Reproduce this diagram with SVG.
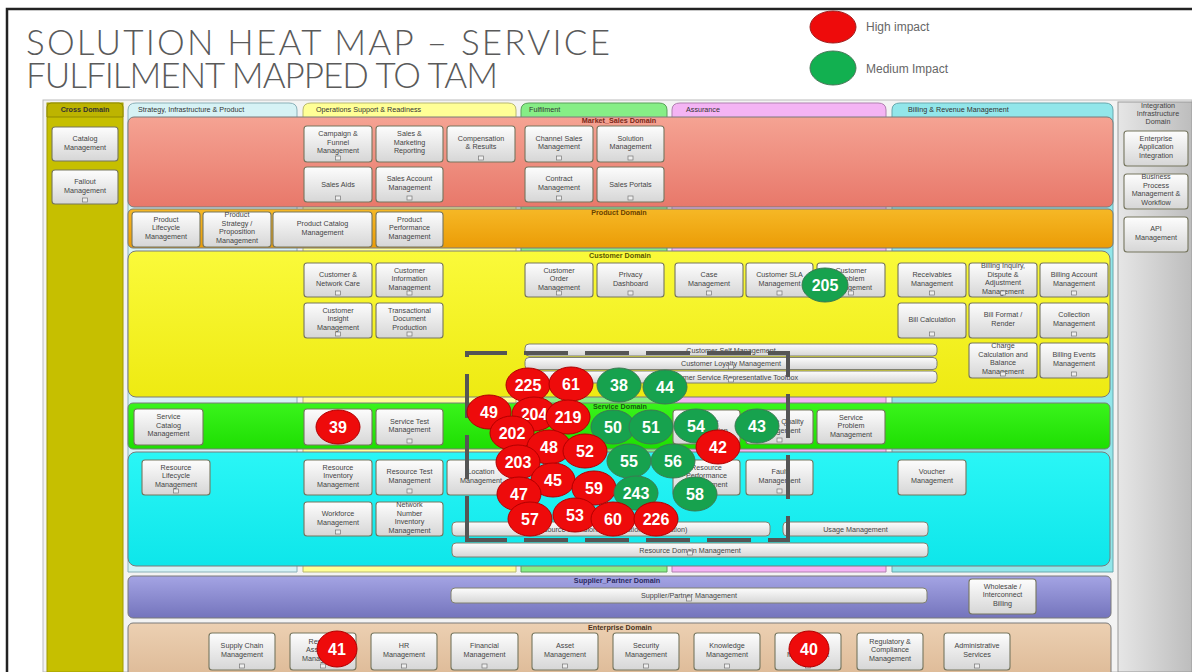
<svg xmlns="http://www.w3.org/2000/svg" width="1192" height="672" viewBox="0 0 1192 672">
  <defs>
    <linearGradient id="gBox" x1="0" y1="0" x2="0" y2="1">
      <stop offset="0" stop-color="#fdfdfd"/>
      <stop offset="1" stop-color="#d6d6d6"/>
    </linearGradient>
    <linearGradient id="gMarket" x1="0" y1="0" x2="0" y2="1">
      <stop offset="0" stop-color="#f5a393"/>
      <stop offset="1" stop-color="#e8786a"/>
    </linearGradient>
    <linearGradient id="gProduct" x1="0" y1="0" x2="0" y2="1">
      <stop offset="0" stop-color="#f6b826"/>
      <stop offset="1" stop-color="#eb9c06"/>
    </linearGradient>
    <linearGradient id="gCustomer" x1="0" y1="0" x2="0" y2="1">
      <stop offset="0" stop-color="#fafa3a"/>
      <stop offset="1" stop-color="#eeea12"/>
    </linearGradient>
    <linearGradient id="gService" x1="0" y1="0" x2="0" y2="1">
      <stop offset="0" stop-color="#3af41c"/>
      <stop offset="1" stop-color="#1ede02"/>
    </linearGradient>
    <linearGradient id="gResource" x1="0" y1="0" x2="0" y2="1">
      <stop offset="0" stop-color="#2af6f6"/>
      <stop offset="1" stop-color="#0ee6ea"/>
    </linearGradient>
    <linearGradient id="gSupplier" x1="0" y1="0" x2="0" y2="1">
      <stop offset="0" stop-color="#a4a4e4"/>
      <stop offset="1" stop-color="#7474bc"/>
    </linearGradient>
    <linearGradient id="gEnterprise" x1="0" y1="0" x2="0" y2="1">
      <stop offset="0" stop-color="#ecd0b2"/>
      <stop offset="1" stop-color="#dcb894"/>
    </linearGradient>
    <linearGradient id="gIntegration" x1="0" y1="0" x2="1" y2="0">
      <stop offset="0" stop-color="#e6e6e6"/>
      <stop offset="1" stop-color="#bdbdbd"/>
    </linearGradient>
    <style>
      .frame { fill: none; stroke: #222; stroke-width: 2.5; }
      .title { font-family: Lato, "Open Sans", "DejaVu Sans", sans-serif; font-weight: 300; font-size: 35px; fill: #5a5a5a; }
      .legend { font-family: "Liberation Sans", Arial, sans-serif; font-size: 12px; fill: #666; }
      .box { fill: url(#gBox); stroke: #76765f; stroke-width: 1.1; }
      .bar { fill: url(#gBox); stroke: #808070; stroke-width: 1; }
      .bt { font-family: "Liberation Sans", Arial, sans-serif; font-size: 7.2px; fill: #444; text-anchor: middle; }
      .tab { font-family: "Liberation Sans", Arial, sans-serif; font-size: 7.2px; fill: #333; }
      .dom { font-family: "Liberation Sans", Arial, sans-serif; font-size: 7.2px; text-anchor: middle; font-weight: bold; }
      .ico { fill: #eee; stroke: #777; stroke-width: 0.7; }
      .row { stroke: #7a7a7a; stroke-width: 1; }
      .hi { fill: #ee0b0b; stroke: #b00000; stroke-width: 1; }
      .med { fill: #17a24e; stroke: #3c7a52; stroke-width: 1; }
      .bn { font-family: "Liberation Sans", Arial, sans-serif; font-size: 16px; font-weight: bold; fill: #fff; text-anchor: middle; }
      .zone { fill: none; stroke: #555; stroke-width: 4; stroke-dasharray: 44 17; }
    </style>
  </defs>

  <rect x="0" y="0" width="1192" height="672" fill="#fff"/>
  <path class="frame" d="M7 672 V9 H1192"/>

  <!-- heading -->
  <g id="heading">
    <text class="title" x="26" y="55" textLength="584" lengthAdjust="spacing">SOLUTION HEAT MAP  – SERVICE</text>
    <text class="title" x="26" y="88" textLength="472" lengthAdjust="spacing">FULFILMENT MAPPED TO TAM</text>
  </g>

  <!-- legend -->
  <g id="legend">
    <ellipse cx="833" cy="27" rx="23" ry="16" fill="#ee0b0b" stroke="#a02020"/>
    <text class="legend" x="866" y="31">High impact</text>
    <ellipse cx="833" cy="68" rx="23" ry="17" fill="#12b050" stroke="#4a7a5a"/>
    <text class="legend" x="866" y="73">Medium Impact</text>
  </g>

  <!-- map background and framing columns -->
  <g id="columns">
    <rect x="43" y="100" width="1149" height="572" fill="#f3f3f3" stroke="#bbb"/>
    <rect x="1118" y="102" width="74" height="570" fill="url(#gIntegration)" stroke="#999"/>
    <rect x="47" y="103" width="76" height="569" fill="#c6bf00" stroke="#a09a00"/>
    <path d="M47 117 V107 Q47 103 51 103 H119 Q123 103 123 107 V117 Z" fill="#bdb400" stroke="#8f8a00"/>
    <text class="tab" x="85" y="112" text-anchor="middle" font-weight="bold">Cross Domain</text>

    <path d="M128 572 V110 Q128 103 136 103 H289 Q297 103 297 110 V572 Z" fill="#d6f2f5" stroke="#8ab0b8"/>
    <text class="tab" x="138" y="112">Strategy, Infrastructure &amp; Product</text>
    <path d="M303 572 V110 Q303 103 311 103 H508 Q516 103 516 110 V572 Z" fill="#ffff96" stroke="#b8b870"/>
    <text class="tab" x="316" y="112">Operations Support &amp; Readiness</text>
    <path d="M521 572 V110 Q521 103 529 103 H659 Q667 103 667 110 V572 Z" fill="#86ee86" stroke="#5aa05a"/>
    <text class="tab" x="529" y="112">Fulfilment</text>
    <path d="M672 572 V110 Q672 103 680 103 H878 Q886 103 886 110 V572 Z" fill="#f4b4f4" stroke="#b080b0"/>
    <text class="tab" x="686" y="112">Assurance</text>
    <path d="M892 572 V110 Q892 103 900 103 H1105 Q1113 103 1113 110 V572 Z" fill="#92e6ea" stroke="#68a8ae"/>
    <text class="tab" x="908" y="112">Billing &amp; Revenue Management</text>

    <text class="bt" x="1158" y="108" fill="#333">Integration</text>
    <text class="bt" x="1158" y="116" fill="#333">Infrastructure</text>
    <text class="bt" x="1158" y="124" fill="#333">Domain</text>
  </g>

  <!-- domain rows -->
  <g id="domains">
    <rect class="row" x="128" y="117" width="985" height="90" rx="6" fill="url(#gMarket)"/>
    <text class="dom" x="619" y="123" fill="#7a2818">Market_Sales Domain</text>
    <rect class="row" x="128" y="209" width="985" height="39" rx="5" fill="url(#gProduct)"/>
    <text class="dom" x="619" y="215" fill="#6a4200">Product Domain</text>
    <rect class="row" x="128" y="251" width="982" height="146" rx="8" fill="url(#gCustomer)"/>
    <text class="dom" x="620" y="258" fill="#5a5600">Customer Domain</text>
    <rect class="row" x="128" y="403" width="982" height="46" rx="5" fill="url(#gService)"/>
    <text class="dom" x="620" y="409" fill="#1a5a10">Service Domain</text>
    <rect class="row" x="128" y="452" width="982" height="114" rx="8" fill="url(#gResource)"/>
    <rect class="row" x="128" y="576" width="983" height="42" rx="5" fill="url(#gSupplier)"/>
    <text class="dom" x="617" y="583" fill="#2a2a60">Supplier_Partner Domain</text>
    <rect class="row" x="128" y="623" width="983" height="60" rx="5" fill="url(#gEnterprise)"/>
    <text class="dom" x="620" y="630" fill="#4a3420">Enterprise Domain</text>
  </g>

  <!-- cross domain -->
  <g id="catalog-management"><rect class="box" x="52" y="127" width="66" height="34" rx="3"/><text class="bt" x="85" y="141.2">Catalog<tspan x="85" dy="8.5">Management</tspan></text></g>
  <g id="fallout-management"><rect class="box" x="52" y="170" width="66" height="34" rx="3"/><text class="bt" x="85" y="184.2">Fallout<tspan x="85" dy="8.5">Management</tspan></text><rect class="ico" x="82.5" y="198" width="5" height="4"/></g>

  <!-- market / sales -->
  <g id="campaign-funnel"><rect class="box" x="304" y="126" width="68" height="36" rx="3"/><text class="bt" x="338" y="136.2">Campaign &amp;<tspan x="338" dy="8.5">Funnel</tspan><tspan x="338" dy="8.5">Management</tspan></text><rect class="ico" x="335.5" y="156" width="5" height="4"/></g>
  <g id="sales-marketing-reporting"><rect class="box" x="376" y="126" width="67" height="36" rx="3"/><text class="bt" x="409.5" y="136.2">Sales &amp;<tspan x="409.5" dy="8.5">Marketing</tspan><tspan x="409.5" dy="8.5">Reporting</tspan></text></g>
  <g id="compensation-results"><rect class="box" x="447" y="126" width="68" height="36" rx="3"/><text class="bt" x="481" y="140.5">Compensation<tspan x="481" dy="8.5">&amp; Results</tspan></text><rect class="ico" x="478.5" y="156" width="5" height="4"/></g>
  <g id="channel-sales"><rect class="box" x="525" y="126" width="68" height="36" rx="3"/><text class="bt" x="559" y="140.5">Channel Sales<tspan x="559" dy="8.5">Management</tspan></text><rect class="ico" x="556.5" y="156" width="5" height="4"/></g>
  <g id="solution-management"><rect class="box" x="597" y="126" width="67" height="36" rx="3"/><text class="bt" x="630.5" y="140.5">Solution<tspan x="630.5" dy="8.5">Management</tspan></text><rect class="ico" x="628" y="156" width="5" height="4"/></g>
  <g id="sales-aids"><rect class="box" x="304" y="167" width="68" height="35" rx="3"/><text class="bt" x="338" y="187">Sales Aids</text><rect class="ico" x="335.5" y="196" width="5" height="4"/></g>
  <g id="sales-account"><rect class="box" x="376" y="167" width="67" height="35" rx="3"/><text class="bt" x="409.5" y="181">Sales Account<tspan x="409.5" dy="8.5">Management</tspan></text><rect class="ico" x="407" y="196" width="5" height="4"/></g>
  <g id="contract-management"><rect class="box" x="525" y="167" width="68" height="35" rx="3"/><text class="bt" x="559" y="181">Contract<tspan x="559" dy="8.5">Management</tspan></text><rect class="ico" x="556.5" y="196" width="5" height="4"/></g>
  <g id="sales-portals"><rect class="box" x="597" y="167" width="67" height="35" rx="3"/><text class="bt" x="630.5" y="187">Sales Portals</text><rect class="ico" x="628" y="196" width="5" height="4"/></g>

  <!-- product -->
  <g id="product-lifecycle"><rect class="box" x="132" y="212" width="68" height="35" rx="3"/><text class="bt" x="166" y="221.7">Product<tspan x="166" dy="8.5">Lifecycle</tspan><tspan x="166" dy="8.5">Management</tspan></text></g>
  <g id="product-strategy"><rect class="box" x="203" y="212" width="68" height="35" rx="3"/><text class="bt" x="237" y="217.4">Product<tspan x="237" dy="8.5">Strategy /</tspan><tspan x="237" dy="8.5">Proposition</tspan><tspan x="237" dy="8.5">Management</tspan></text></g>
  <g id="product-catalog"><rect class="box" x="273" y="212" width="99" height="35" rx="3"/><text class="bt" x="322.5" y="226">Product Catalog<tspan x="322.5" dy="8.5">Management</tspan></text></g>
  <g id="product-performance"><rect class="box" x="376" y="212" width="67" height="35" rx="3"/><text class="bt" x="409.5" y="221.7">Product<tspan x="409.5" dy="8.5">Performance</tspan><tspan x="409.5" dy="8.5">Management</tspan></text></g>

  <!-- integration infrastructure -->
  <g id="enterprise-application-integration"><rect class="box" x="1124" y="131" width="64" height="35" rx="3"/><text class="bt" x="1156" y="140.7">Enterprise<tspan x="1156" dy="8.5">Application</tspan><tspan x="1156" dy="8.5">Integration</tspan></text></g>
  <g id="business-process-management"><rect class="box" x="1124" y="174" width="64" height="35" rx="3"/><text class="bt" x="1156" y="179.4">Business<tspan x="1156" dy="8.5">Process</tspan><tspan x="1156" dy="8.5">Management &amp;</tspan><tspan x="1156" dy="8.5">Workflow</tspan></text></g>
  <g id="api-management"><rect class="box" x="1124" y="217" width="64" height="35" rx="3"/><text class="bt" x="1156" y="231">API<tspan x="1156" dy="8.5">Management</tspan></text></g>

  <!-- customer -->
  <g id="customer-network-care"><rect class="box" x="304" y="263" width="68" height="34" rx="3"/><text class="bt" x="338" y="277">Customer &amp;<tspan x="338" dy="8.5">Network Care</tspan></text><rect class="ico" x="335.5" y="291" width="5" height="4"/></g>
  <g id="customer-information"><rect class="box" x="376" y="263" width="67" height="34" rx="3"/><text class="bt" x="409.5" y="272.7">Customer<tspan x="409.5" dy="8.5">Information</tspan><tspan x="409.5" dy="8.5">Management</tspan></text><rect class="ico" x="407" y="291" width="5" height="4"/></g>
  <g id="customer-insight"><rect class="box" x="304" y="303" width="68" height="35" rx="3"/><text class="bt" x="338" y="312.7">Customer<tspan x="338" dy="8.5">Insight</tspan><tspan x="338" dy="8.5">Management</tspan></text><rect class="ico" x="335.5" y="332" width="5" height="4"/></g>
  <g id="transactional-document"><rect class="box" x="376" y="303" width="67" height="35" rx="3"/><text class="bt" x="409.5" y="312.7">Transactional<tspan x="409.5" dy="8.5">Document</tspan><tspan x="409.5" dy="8.5">Production</tspan></text><rect class="ico" x="407" y="332" width="5" height="4"/></g>
  <g id="customer-order"><rect class="box" x="525" y="263" width="68" height="34" rx="3"/><text class="bt" x="559" y="272.7">Customer<tspan x="559" dy="8.5">Order</tspan><tspan x="559" dy="8.5">Management</tspan></text><rect class="ico" x="556.5" y="291" width="5" height="4"/></g>
  <g id="privacy-dashboard"><rect class="box" x="597" y="263" width="67" height="34" rx="3"/><text class="bt" x="630.5" y="277">Privacy<tspan x="630.5" dy="8.5">Dashboard</tspan></text><rect class="ico" x="628" y="291" width="5" height="4"/></g>
  <g id="case-management"><rect class="box" x="675" y="263" width="68" height="34" rx="3"/><text class="bt" x="709" y="277">Case<tspan x="709" dy="8.5">Management</tspan></text><rect class="ico" x="706.5" y="291" width="5" height="4"/></g>
  <g id="customer-sla"><rect class="box" x="746" y="263" width="67" height="34" rx="3"/><text class="bt" x="779.5" y="277">Customer SLA<tspan x="779.5" dy="8.5">Management</tspan></text><rect class="ico" x="777" y="291" width="5" height="4"/></g>
  <g id="customer-problem"><rect class="box" x="817" y="263" width="68" height="34" rx="3"/><text class="bt" x="851" y="272.7">Customer<tspan x="851" dy="8.5">Problem</tspan><tspan x="851" dy="8.5">Management</tspan></text><rect class="ico" x="848.5" y="291" width="5" height="4"/></g>
  <g id="receivables"><rect class="box" x="898" y="263" width="68" height="34" rx="3"/><text class="bt" x="932" y="277">Receivables<tspan x="932" dy="8.5">Management</tspan></text><rect class="ico" x="929.5" y="291" width="5" height="4"/></g>
  <g id="billing-inquiry"><rect class="box" x="969" y="263" width="68" height="34" rx="3"/><text class="bt" x="1003" y="268.4">Billing Inquiry,<tspan x="1003" dy="8.5">Dispute &amp;</tspan><tspan x="1003" dy="8.5">Adjustment</tspan><tspan x="1003" dy="8.5">Management</tspan></text><rect class="ico" x="1000.5" y="291" width="5" height="4"/></g>
  <g id="billing-account"><rect class="box" x="1040" y="263" width="68" height="34" rx="3"/><text class="bt" x="1074" y="277">Billing Account<tspan x="1074" dy="8.5">Management</tspan></text><rect class="ico" x="1071.5" y="291" width="5" height="4"/></g>
  <g id="bill-calculation"><rect class="box" x="898" y="303" width="68" height="35" rx="3"/><text class="bt" x="932" y="322">Bill Calculation</text><rect class="ico" x="929.5" y="332" width="5" height="4"/></g>
  <g id="bill-format"><rect class="box" x="969" y="303" width="68" height="35" rx="3"/><text class="bt" x="1003" y="317">Bill Format /<tspan x="1003" dy="8.5">Render</tspan></text></g>
  <g id="collection"><rect class="box" x="1040" y="303" width="68" height="35" rx="3"/><text class="bt" x="1074" y="317">Collection<tspan x="1074" dy="8.5">Management</tspan></text><rect class="ico" x="1071.5" y="332" width="5" height="4"/></g>
  <g id="charge-calculation"><rect class="box" x="969" y="343" width="68" height="35" rx="3"/><text class="bt" x="1003" y="348.4">Charge<tspan x="1003" dy="8.5">Calculation and</tspan><tspan x="1003" dy="8.5">Balance</tspan><tspan x="1003" dy="8.5">Management</tspan></text><rect class="ico" x="1000.5" y="372" width="5" height="4"/></g>
  <g id="billing-events"><rect class="box" x="1040" y="343" width="68" height="35" rx="3"/><text class="bt" x="1074" y="357">Billing Events<tspan x="1074" dy="8.5">Management</tspan></text><rect class="ico" x="1071.5" y="372" width="5" height="4"/></g>
  <g id="customer-self"><rect class="bar" x="525" y="344" width="412" height="12" rx="4"/><text class="bt" x="731" y="352.5">Customer Self Management</text></g>
  <g id="customer-loyalty"><rect class="bar" x="525" y="357.5" width="412" height="12" rx="4"/><text class="bt" x="731" y="366">Customer Loyalty Management</text><rect class="ico" x="728.5" y="365" width="5" height="4"/></g>
  <g id="csr-toolbox"><rect class="bar" x="525" y="371" width="412" height="12" rx="4"/><text class="bt" x="731" y="379.5">Customer Service Representative Toolbox</text><rect class="ico" x="728.5" y="378" width="5" height="4"/></g>

  <!-- service -->
  <g id="service-catalog"><rect class="box" x="134" y="409" width="69" height="36" rx="3"/><text class="bt" x="168.5" y="419.2">Service<tspan x="168.5" dy="8.5">Catalog</tspan><tspan x="168.5" dy="8.5">Management</tspan></text></g>
  <g id="service-inventory"><rect class="box" x="304" y="409" width="68" height="36" rx="3"/><text class="bt" x="338" y="423.5">Service<tspan x="338" dy="8.5">Inventory</tspan></text><rect class="ico" x="335.5" y="439" width="5" height="4"/></g>
  <g id="service-test"><rect class="box" x="376" y="409" width="67" height="36" rx="3"/><text class="bt" x="409.5" y="423.5">Service Test<tspan x="409.5" dy="8.5">Management</tspan></text><rect class="ico" x="407" y="439" width="5" height="4"/></g>
  <g id="service-order"><rect class="box" x="673" y="410" width="67" height="34" rx="3"/><text class="bt" x="706.5" y="424">Service<tspan x="706.5" dy="8.5">Configuration</tspan></text></g>
  <g id="service-quality"><rect class="box" x="746" y="410" width="67" height="34" rx="3"/><text class="bt" x="779.5" y="424">Service Quality<tspan x="779.5" dy="8.5">Management</tspan></text><rect class="ico" x="777" y="438" width="5" height="4"/></g>
  <g id="service-problem"><rect class="box" x="817" y="410" width="68" height="34" rx="3"/><text class="bt" x="851" y="419.7">Service<tspan x="851" dy="8.5">Problem</tspan><tspan x="851" dy="8.5">Management</tspan></text></g>

  <!-- resource -->
  <g id="resource-lifecycle"><rect class="box" x="142" y="460" width="68" height="35" rx="3"/><text class="bt" x="176" y="469.7">Resource<tspan x="176" dy="8.5">Lifecycle</tspan><tspan x="176" dy="8.5">Management</tspan></text><rect class="ico" x="173.5" y="489" width="5" height="4"/></g>
  <g id="resource-inventory"><rect class="box" x="304" y="460" width="68" height="35" rx="3"/><text class="bt" x="338" y="469.7">Resource<tspan x="338" dy="8.5">Inventory</tspan><tspan x="338" dy="8.5">Management</tspan></text></g>
  <g id="resource-test"><rect class="box" x="376" y="460" width="67" height="35" rx="3"/><text class="bt" x="409.5" y="474">Resource Test<tspan x="409.5" dy="8.5">Management</tspan></text><rect class="ico" x="407" y="489" width="5" height="4"/></g>
  <g id="location-management"><rect class="box" x="447" y="460" width="68" height="35" rx="3"/><text class="bt" x="481" y="474">Location<tspan x="481" dy="8.5">Management</tspan></text></g>
  <g id="resource-performance"><rect class="box" x="673" y="460" width="67" height="35" rx="3"/><text class="bt" x="706.5" y="469.7">Resource<tspan x="706.5" dy="8.5">Performance</tspan><tspan x="706.5" dy="8.5">Management</tspan></text></g>
  <g id="fault-management"><rect class="box" x="746" y="460" width="67" height="35" rx="3"/><text class="bt" x="779.5" y="474">Fault<tspan x="779.5" dy="8.5">Management</tspan></text><rect class="ico" x="777" y="489" width="5" height="4"/></g>
  <g id="voucher-management"><rect class="box" x="898" y="460" width="68" height="35" rx="3"/><text class="bt" x="932" y="474">Voucher<tspan x="932" dy="8.5">Management</tspan></text></g>
  <g id="workforce"><rect class="box" x="304" y="502" width="68" height="34" rx="3"/><text class="bt" x="338" y="516">Workforce<tspan x="338" dy="8.5">Management</tspan></text><rect class="ico" x="335.5" y="530" width="5" height="4"/></g>
  <g id="network-number-inventory"><rect class="box" x="376" y="502" width="67" height="34" rx="3"/><text class="bt" x="409.5" y="507.4">Network<tspan x="409.5" dy="8.5">Number</tspan><tspan x="409.5" dy="8.5">Inventory</tspan><tspan x="409.5" dy="8.5">Management</tspan></text></g>
  <g id="resource-provisioning"><rect class="bar" x="452" y="522" width="318" height="14" rx="4"/><text class="bt" x="611" y="531.5">Resource Provisioning (Activation &amp; Integration)</text></g>
  <g id="usage-management"><rect class="bar" x="783" y="522" width="145" height="14" rx="4"/><text class="bt" x="855.5" y="531.5">Usage Management</text></g>
  <g id="resource-domain-management"><rect class="bar" x="452" y="543" width="476" height="14" rx="4"/><text class="bt" x="690" y="552.5">Resource Domain Management</text><rect class="ico" x="687.5" y="551" width="5" height="4"/></g>

  <!-- supplier / partner -->
  <g id="supplier-partner"><rect class="bar" x="451" y="588" width="476" height="15" rx="4"/><text class="bt" x="689" y="598">Supplier/Partner Management</text><rect class="ico" x="686.5" y="597" width="5" height="4"/></g>
  <g id="wholesale-billing"><rect class="box" x="969" y="579" width="67" height="35" rx="3"/><text class="bt" x="1002.5" y="588.7">Wholesale /<tspan x="1002.5" dy="8.5">Interconnect</tspan><tspan x="1002.5" dy="8.5">Billing</tspan></text></g>

  <!-- enterprise -->
  <g id="supply-chain"><rect class="box" x="209" y="633" width="66" height="37" rx="3"/><text class="bt" x="242" y="648">Supply Chain<tspan x="242" dy="8.5">Management</tspan></text><rect class="ico" x="239.5" y="664" width="5" height="4"/></g>
  <g id="revenue-assurance"><rect class="box" x="290" y="633" width="66" height="37" rx="3"/><text class="bt" x="323" y="643.7">Revenue<tspan x="323" dy="8.5">Assurance</tspan><tspan x="323" dy="8.5">Management</tspan></text><rect class="ico" x="320.5" y="664" width="5" height="4"/></g>
  <g id="hr-management"><rect class="box" x="371" y="633" width="66" height="37" rx="3"/><text class="bt" x="404" y="648">HR<tspan x="404" dy="8.5">Management</tspan></text><rect class="ico" x="401.5" y="664" width="5" height="4"/></g>
  <g id="financial-management"><rect class="box" x="451" y="633" width="67" height="37" rx="3"/><text class="bt" x="484.5" y="648">Financial<tspan x="484.5" dy="8.5">Management</tspan></text><rect class="ico" x="482" y="664" width="5" height="4"/></g>
  <g id="asset-management"><rect class="box" x="532" y="633" width="66" height="37" rx="3"/><text class="bt" x="565" y="648">Asset<tspan x="565" dy="8.5">Management</tspan></text><rect class="ico" x="562.5" y="664" width="5" height="4"/></g>
  <g id="security-management"><rect class="box" x="613" y="633" width="66" height="37" rx="3"/><text class="bt" x="646" y="648">Security<tspan x="646" dy="8.5">Management</tspan></text><rect class="ico" x="643.5" y="664" width="5" height="4"/></g>
  <g id="knowledge-management"><rect class="box" x="694" y="633" width="66" height="37" rx="3"/><text class="bt" x="727" y="648">Knowledge<tspan x="727" dy="8.5">Management</tspan></text><rect class="ico" x="724.5" y="664" width="5" height="4"/></g>
  <g id="risk-management"><rect class="box" x="775" y="633" width="66" height="37" rx="3"/><text class="bt" x="808" y="648">Risk<tspan x="808" dy="8.5">Management</tspan></text><rect class="ico" x="805.5" y="664" width="5" height="4"/></g>
  <g id="regulatory-compliance"><rect class="box" x="857" y="633" width="66" height="37" rx="3"/><text class="bt" x="890" y="643.7">Regulatory &amp;<tspan x="890" dy="8.5">Compliance</tspan><tspan x="890" dy="8.5">Management</tspan></text></g>
  <g id="administrative-services"><rect class="box" x="944" y="633" width="66" height="37" rx="3"/><text class="bt" x="977" y="648">Administrative<tspan x="977" dy="8.5">Services</tspan></text><rect class="ico" x="974.5" y="664" width="5" height="4"/></g>

  <!-- scope outline around the fulfilment cluster -->
  <g id="connectors">
    <path class="zone" d="M467 540 V353 H788 V540 Z"/>
  </g>

  <!-- impact markers -->
  <g id="impacts">
    <g id="m205"><ellipse class="med" cx="825" cy="285" rx="23" ry="17"/><text class="bn" x="825" y="291">205</text></g>
    <g id="m225"><ellipse class="hi" cx="528" cy="385" rx="22" ry="17"/><text class="bn" x="528" y="391">225</text></g>
    <g id="m61"><ellipse class="hi" cx="571" cy="384" rx="22" ry="17"/><text class="bn" x="571" y="390">61</text></g>
    <g id="m38"><ellipse class="med" cx="619" cy="385" rx="22" ry="17"/><text class="bn" x="619" y="391">38</text></g>
    <g id="m44"><ellipse class="med" cx="665" cy="387" rx="22" ry="17"/><text class="bn" x="665" y="393">44</text></g>
    <g id="m39"><ellipse class="hi" cx="338" cy="427" rx="22" ry="17"/><text class="bn" x="338" y="433">39</text></g>
    <g id="m49"><ellipse class="hi" cx="489" cy="412" rx="22" ry="17"/><text class="bn" x="489" y="418">49</text></g>
    <g id="m204"><ellipse class="hi" cx="534" cy="414" rx="22" ry="17"/><text class="bn" x="534" y="420">204</text></g>
    <g id="m219"><ellipse class="hi" cx="568" cy="417" rx="22" ry="17"/><text class="bn" x="568" y="423">219</text></g>
    <g id="m202"><ellipse class="hi" cx="512" cy="433" rx="22" ry="17"/><text class="bn" x="512" y="439">202</text></g>
    <g id="m50"><ellipse class="med" cx="613" cy="427" rx="22" ry="17"/><text class="bn" x="613" y="433">50</text></g>
    <g id="m51"><ellipse class="med" cx="651" cy="427" rx="22" ry="17"/><text class="bn" x="651" y="433">51</text></g>
    <g id="m54"><ellipse class="med" cx="696" cy="426" rx="22" ry="17"/><text class="bn" x="696" y="432">54</text></g>
    <g id="m43"><ellipse class="med" cx="757" cy="426" rx="22" ry="17"/><text class="bn" x="757" y="432">43</text></g>
    <g id="m48"><ellipse class="hi" cx="549" cy="447" rx="22" ry="17"/><text class="bn" x="549" y="453">48</text></g>
    <g id="m52"><ellipse class="hi" cx="585" cy="451" rx="22" ry="17"/><text class="bn" x="585" y="457">52</text></g>
    <g id="m42"><ellipse class="hi" cx="718" cy="447" rx="22" ry="17"/><text class="bn" x="718" y="453">42</text></g>
    <g id="m203"><ellipse class="hi" cx="518" cy="462" rx="22" ry="17"/><text class="bn" x="518" y="468">203</text></g>
    <g id="m55"><ellipse class="med" cx="629" cy="461" rx="22" ry="17"/><text class="bn" x="629" y="467">55</text></g>
    <g id="m56"><ellipse class="med" cx="673" cy="461" rx="22" ry="17"/><text class="bn" x="673" y="467">56</text></g>
    <g id="m45"><ellipse class="hi" cx="553" cy="480" rx="22" ry="17"/><text class="bn" x="553" y="486">45</text></g>
    <g id="m59"><ellipse class="hi" cx="594" cy="488" rx="22" ry="17"/><text class="bn" x="594" y="494">59</text></g>
    <g id="m47"><ellipse class="hi" cx="519" cy="494" rx="22" ry="17"/><text class="bn" x="519" y="500">47</text></g>
    <g id="m243"><ellipse class="med" cx="636" cy="493" rx="22" ry="17"/><text class="bn" x="636" y="499">243</text></g>
    <g id="m58"><ellipse class="med" cx="695" cy="494" rx="22" ry="17"/><text class="bn" x="695" y="500">58</text></g>
    <g id="m57"><ellipse class="hi" cx="530" cy="519" rx="22" ry="17"/><text class="bn" x="530" y="525">57</text></g>
    <g id="m53"><ellipse class="hi" cx="575" cy="515" rx="22" ry="17"/><text class="bn" x="575" y="521">53</text></g>
    <g id="m60"><ellipse class="hi" cx="613" cy="519" rx="22" ry="17"/><text class="bn" x="613" y="525">60</text></g>
    <g id="m226"><ellipse class="hi" cx="656" cy="519" rx="22" ry="17"/><text class="bn" x="656" y="525">226</text></g>
    <g id="m41"><ellipse class="hi" cx="337" cy="649" rx="20" ry="18"/><text class="bn" x="337" y="655">41</text></g>
    <g id="m40"><ellipse class="hi" cx="809" cy="649" rx="20" ry="18"/><text class="bn" x="809" y="655">40</text></g>
  </g>
</svg>
